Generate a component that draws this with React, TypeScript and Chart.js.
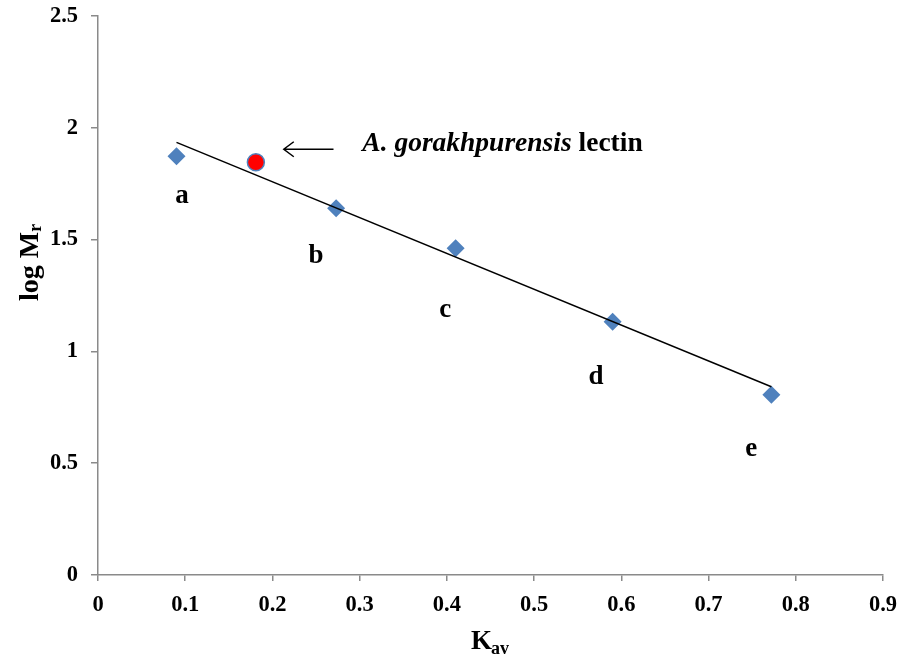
import React, { useEffect, useRef } from "react";
import { Chart, registerables } from "chart.js";

Chart.register(...registerables);

// Standards (Kav vs log Mr)
const standardKav = [0.09, 0.273, 0.41, 0.59, 0.772];
const standardLogMr = [1.873, 1.64, 1.461, 1.133, 0.806];
const standardNames = ["a", "b", "c", "d", "e"];
// Label anchor positions (data units)
const labelKav = [0.0964, 0.25, 0.398, 0.571, 0.749];
const labelLogMr = [1.694, 1.425, 1.187, 0.887, 0.565];

// Lectin point
const lectinKav = [0.181];
const lectinLogMr = [1.846];

// Trend line
const trendKav = [0.09, 0.772];
const trendLogMr = [1.935, 0.842];

// Annotation (arrow + text) in data units
const arrowFromKav = 0.27;
const arrowToKav = 0.213;
const arrowLogMr = 1.904;
const annotKav = 0.303;
const annotLogMr = 1.927;
const annotItalic = "A. gorakhpurensis";
const annotRest = " lectin";

const xTicks = { min: 0, max: 0.9, step: 0.1 };
const yTicks = { min: 0, max: 2.5, step: 0.5 };

const SERIF = "'Liberation Serif', 'Times New Roman', serif";
const AXIS_GRAY = "#8a8a8a";

const fmt = (v: number) => String(Math.round(v * 10) / 10);

const overlayPlugin = {
  id: "overlay",
  afterDraw(chart: any) {
    const ctx = chart.ctx;
    const xs = chart.scales.x;
    const ys = chart.scales.y;
    ctx.save();
    ctx.fillStyle = "#000";

    // Point labels a-e
    ctx.font = `bold 27px ${SERIF}`;
    ctx.textAlign = "center";
    ctx.textBaseline = "middle";
    standardNames.forEach((n, i) => {
      ctx.fillText(n, xs.getPixelForValue(labelKav[i]), ys.getPixelForValue(labelLogMr[i]));
    });

    // Arrow
    const ax1 = xs.getPixelForValue(arrowFromKav);
    const ax2 = xs.getPixelForValue(arrowToKav);
    const ay = ys.getPixelForValue(arrowLogMr);
    ctx.strokeStyle = "#000";
    ctx.lineWidth = 1.5;
    ctx.beginPath();
    ctx.moveTo(ax1, ay);
    ctx.lineTo(ax2, ay);
    ctx.moveTo(ax2 + 10, ay - 7.5);
    ctx.lineTo(ax2, ay);
    ctx.lineTo(ax2 + 10, ay + 7.5);
    ctx.stroke();

    // Annotation text
    const tx = xs.getPixelForValue(annotKav);
    const ty = ys.getPixelForValue(annotLogMr);
    ctx.textAlign = "left";
    ctx.textBaseline = "middle";
    ctx.font = `italic bold 27.5px ${SERIF}`;
    ctx.fillText(annotItalic, tx, ty);
    const w1 = ctx.measureText(annotItalic).width;
    ctx.font = `bold 27.5px ${SERIF}`;
    ctx.fillText(annotRest, tx + w1, ty);

    // X axis title K_av
    ctx.textBaseline = "alphabetic";
    ctx.font = `bold 27px ${SERIF}`;
    const kW = ctx.measureText("K").width;
    const kx = 471;
    ctx.fillText("K", kx, 649);
    ctx.font = `bold 18px ${SERIF}`;
    ctx.fillText("av", kx + kW - 1, 654);

    // Y axis title log M_r
    ctx.translate(38, 301);
    ctx.rotate(-Math.PI / 2);
    ctx.font = `bold 28px ${SERIF}`;
    ctx.fillText("log M", 0, 0);
    const lw = ctx.measureText("log M").width;
    ctx.font = `bold 18px ${SERIF}`;
    ctx.fillText("r", lw, 3);
    ctx.restore();
  },
};

export default function App() {
  const ref = useRef<HTMLCanvasElement | null>(null);
  useEffect(() => {
    if (!ref.current) return;
    const tickFont = { family: SERIF, size: 22.5, weight: "bold" as const };
    const chart = new Chart(ref.current, {
      type: "scatter",
      data: {
        datasets: [
          {
            label: "Lectin",
            data: lectinKav.map((x, i) => ({ x, y: lectinLogMr[i] })),
            pointStyle: "circle",
            pointRadius: 8.5,
            backgroundColor: "#FF0000",
            borderColor: "#4F81BD",
            borderWidth: 1.5,
            order: 0,
          },
          {
            label: "Trend",
            type: "line",
            data: trendKav.map((x, i) => ({ x, y: trendLogMr[i] })),
            showLine: true,
            pointRadius: 0,
            borderColor: "#000",
            borderWidth: 1.5,
            fill: false,
            order: 1,
          } as any,
          {
            label: "Standards",
            data: standardKav.map((x, i) => ({ x, y: standardLogMr[i] })),
            pointStyle: "rectRot",
            pointRadius: 9,
            backgroundColor: "#4F81BD",
            borderColor: "#4F81BD",
            borderWidth: 0,
            order: 2,
          },
        ],
      },
      options: {
        responsive: false,
        animation: false,
        devicePixelRatio: 1,
        layout: { padding: { left: 0, right: 14, top: 16, bottom: 0 } },
        plugins: { legend: { display: false }, tooltip: { enabled: false } },
        scales: {
          x: {
            type: "linear",
            min: xTicks.min,
            max: xTicks.max,
            ticks: { stepSize: xTicks.step, font: tickFont, color: "#000", padding: 11, callback: (v: any) => fmt(Number(v)) },
            grid: { drawOnChartArea: false, drawTicks: true, tickLength: 6, color: AXIS_GRAY, lineWidth: 1.5 },
            border: { display: true, color: AXIS_GRAY, width: 1.5 },
            afterFit: (s: any) => {
              s.height = 84;
              s.paddingLeft = 0;
              s.paddingRight = 0;
            },
          },
          y: {
            type: "linear",
            min: yTicks.min,
            max: yTicks.max,
            ticks: { stepSize: yTicks.step, font: tickFont, color: "#000", padding: 13, callback: (v: any) => fmt(Number(v)) },
            grid: { drawOnChartArea: false, drawTicks: true, tickLength: 7, color: AXIS_GRAY, lineWidth: 1.5 },
            border: { display: true, color: AXIS_GRAY, width: 1.5 },
            afterFit: (s: any) => {
              s.width = 98;
              s.paddingTop = 0;
              s.paddingBottom = 0;
            },
          },
        },
      },
      plugins: [overlayPlugin],
    });
    return () => chart.destroy();
  }, []);
  return (
    <div style={{ position: "absolute", left: 0, top: 0, width: 897, height: 659, background: "#fff" }}>
      <canvas ref={ref} width={897} height={659} />
    </div>
  );
}
